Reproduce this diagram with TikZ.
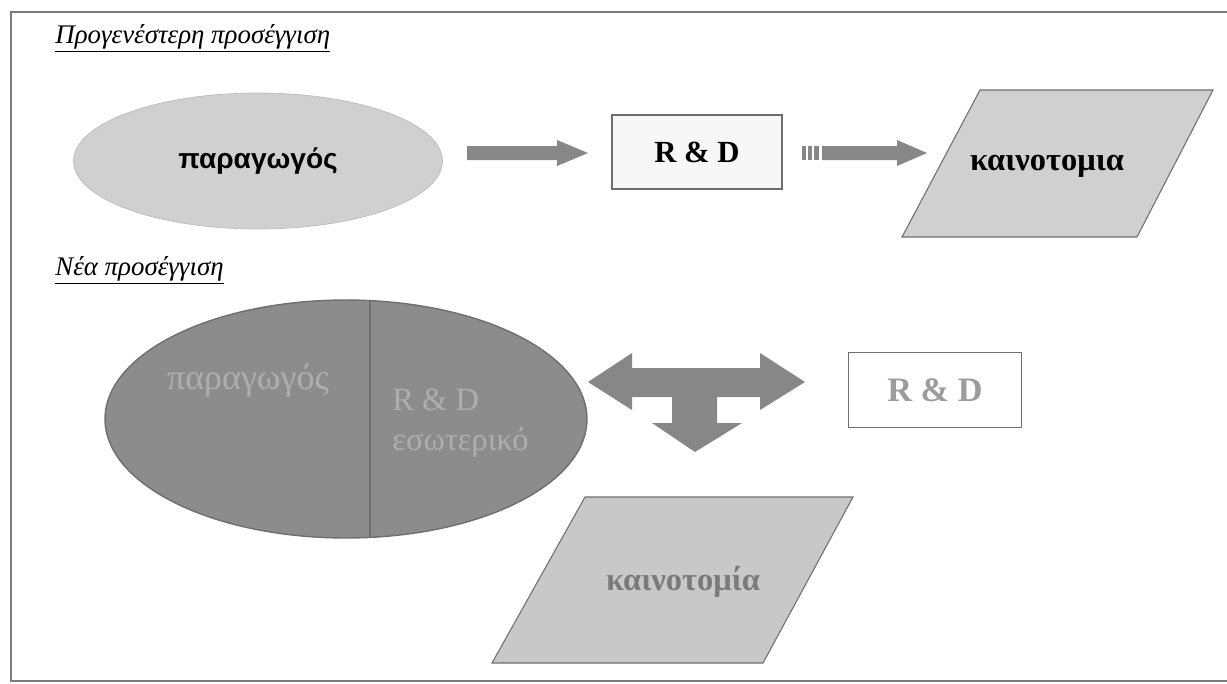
\documentclass[tikz,border=0pt]{standalone}
\usepackage{fontspec}
\setmainfont{Liberation Serif}
\setsansfont{Liberation Sans}
\usetikzlibrary{shapes.geometric}

\definecolor{framegray}{HTML}{7C7C7C}
\definecolor{lightfill}{HTML}{D0D0D0}
\definecolor{darkfill}{HTML}{8C8C8C}
\definecolor{arrowfill}{HTML}{878787}
\definecolor{edgegray}{HTML}{6E6E6E}
\definecolor{paletext}{HTML}{AEAEAE}
\definecolor{midtext}{HTML}{9C9C9C}
\definecolor{darktext}{HTML}{7A7A7A}

\begin{document}
\begin{tikzpicture}[x=0.02cm,y=-0.02cm,
  heading/.style={anchor=base west,inner sep=0pt,font=\fontsize{15.3}{18}\selectfont\itshape},
  blockarrow/.style={fill=arrowfill,draw=none},
  slanted/.style={fill=lightfill,draw=edgegray,line width=0.6pt},
  rdbox/.style={draw=edgegray,line width=0.8pt,minimum width=3.4cm,minimum height=1.48cm}]
\useasboundingbox (0,0) rectangle (1227,683);

% outer frame
\draw[framegray,line width=1.1pt] (1240,12) -- (11,12) -- (11,681) -- (1240,681);

% ---- old approach ----
\node[heading] (oldtitle) at (55,43) {\underline{Προγενέστερη προσέγγιση}};

% producer
\node[ellipse,fill=lightfill,draw=lightfill!90!black,line width=0.4pt,
      minimum width=7.38cm,minimum height=2.72cm,
      font=\sffamily\bfseries\fontsize{16}{19}\selectfont] (oldprod) at (258,161) {παραγωγός};

% R & D
\node[rdbox,fill=white!97!black,font=\bfseries\fontsize{17.5}{20}\selectfont] (oldrd) at (697,152) {R \& D};

% arrow producer -> R & D
\fill[blockarrow] (467,146) -- (557,146) -- (557,140) -- (588,153) -- (557,166) -- (557,160) -- (467,160) -- cycle;

% striped arrow R & D -> innovation
\fill[blockarrow] (802,146) rectangle (806,160);
\fill[blockarrow] (808,146) rectangle (812,160);
\fill[blockarrow] (814,146) rectangle (819,160);
\fill[blockarrow] (822,146) -- (897,146) -- (897,140) -- (927,153) -- (897,166) -- (897,160) -- (822,160) -- cycle;

% innovation
\draw[slanted] (902,237) -- (980,90) -- (1213,90) -- (1137,237) -- cycle;
\node[font=\bfseries\fontsize{18.5}{21}\selectfont] (oldinno) at (1047,166) {καινοτομια};

% ---- new approach ----
\node[heading] (newtitle) at (55,275) {\underline{Νέα προσέγγιση}};

% producer with internal R & D
\node[ellipse,fill=darkfill,draw=edgegray,line width=0.8pt,
      minimum width=9.64cm,minimum height=4.76cm] (newprod) at (346,419) {};
\draw[edgegray,line width=1.2pt] (370,300.6) -- (370,537.4);
\node[text=paletext,font=\fontsize{20.5}{24}\selectfont] (prodtext) at (248,381) {παραγωγός};
\node[text=paletext,anchor=west,align=left,inner sep=0pt,
      font=\fontsize{18.5}{23}\selectfont] (inrd) at (392,423) {R \& D\\εσωτερικό};

% three-way arrow
\fill[blockarrow] (588,382) -- (632,353) -- (632,368) -- (760,368) -- (760,353) -- (805,382)
  -- (760,410) -- (760,397) -- (717,397) -- (717,423) -- (742,423) -- (695,452)
  -- (652,423) -- (672,423) -- (672,397) -- (632,397) -- (632,410) -- cycle;

% external R & D
\node[rdbox,fill=white,minimum width=3.46cm,minimum height=1.5cm,
      text=midtext,font=\bfseries\fontsize{19.5}{22}\selectfont] (newrd) at (935,390) {R \& D};

% innovation
\draw[slanted,fill=lightfill!96!black] (492,663) -- (585,497) -- (853,497) -- (763,663) -- cycle;
\node[text=darktext,font=\bfseries\fontsize{18.5}{21}\selectfont] (newinno) at (683,582) {καινοτομία};

\end{tikzpicture}
\end{document}
